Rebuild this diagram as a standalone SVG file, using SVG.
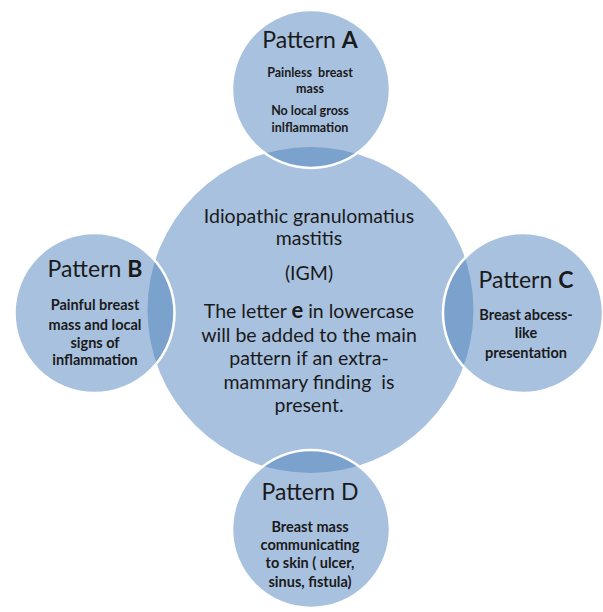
<svg xmlns="http://www.w3.org/2000/svg" width="603" height="612" viewBox="0 0 603 612">
<style>
.fill{fill:#a8c1df}
.dark{fill:#7ba1cd}
.edge{fill:none;stroke:#ffffff;stroke-width:2.5}
text{font-family:Lato,"Open Sans","Liberation Sans",sans-serif;fill:#1a1a1a;text-anchor:middle}
.title{font-size:23px}
.main{font-size:19.5px}
.small{font-size:12.5px;font-weight:bold}
.body{font-size:14.5px;font-weight:bold}
</style>
<defs>
<clipPath id="bigClip"><circle cx="310.5" cy="310" r="163"/></clipPath>
</defs>
<g id="center">
<circle class="fill" cx="310.5" cy="310" r="163"/>
</g>
<g id="circles">
<g id="patternA">
<circle class="fill" cx="311" cy="89" r="79"/>
<circle class="dark" cx="311" cy="89" r="79" clip-path="url(#bigClip)"/>
<circle class="edge" cx="311" cy="89" r="79"/>
</g>
<g id="patternB">
<circle class="fill" cx="94.5" cy="313" r="80"/>
<circle class="dark" cx="94.5" cy="313" r="80" clip-path="url(#bigClip)"/>
<circle class="edge" cx="94.5" cy="313" r="80"/>
</g>
<g id="patternC">
<circle class="fill" cx="523" cy="313" r="80"/>
<circle class="dark" cx="523" cy="313" r="80" clip-path="url(#bigClip)"/>
<circle class="edge" cx="523" cy="313" r="80"/>
</g>
<g id="patternD">
<circle class="fill" cx="311" cy="529" r="79"/>
<circle class="dark" cx="311" cy="529" r="79" clip-path="url(#bigClip)"/>
<circle class="edge" cx="311" cy="529" r="79"/>
</g>
</g>
<g id="labels">
<g id="centerText">
<text class="main" x="309" y="223">Idiopathic granulomatius</text>
<text class="main" x="309" y="245">mastitis</text>
<text class="main" x="309" y="280">(IGM)</text>
<text class="main" x="309" y="318">The letter <tspan font-weight="bold" font-size="22px">e</tspan> in lowercase</text>
<text class="main" x="309" y="342">will be added to the main</text>
<text class="main" x="309" y="365">pattern if an extra-</text>
<text class="main" x="309" y="389" xml:space="preserve">mammary finding  is</text>
<text class="main" x="309" y="412">present.</text>
</g>
<g id="textA">
<text class="title" x="310" y="48">Pattern <tspan font-weight="bold">A</tspan></text>
<text class="small" x="310" y="77" xml:space="preserve">Painless  breast</text>
<text class="small" x="310" y="93">mass</text>
<text class="small" x="310" y="115">No local gross</text>
<text class="small" x="310" y="132">inlflammation</text>
</g>
<g id="textB">
<text class="title" x="95" y="277">Pattern <tspan font-weight="bold">B</tspan></text>
<text class="body" x="95" y="310">Painful breast</text>
<text class="body" x="95" y="330">mass and local</text>
<text class="body" x="95" y="348">signs of</text>
<text class="body" x="95" y="365">inflammation</text>
</g>
<g id="textC">
<text class="title" x="526" y="288">Pattern <tspan font-weight="bold">C</tspan></text>
<text class="body" x="526" y="320">Breast abcess-</text>
<text class="body" x="526" y="338">like</text>
<text class="body" x="526" y="358">presentation</text>
</g>
<g id="textD">
<text class="title" x="310" y="500">Pattern D</text>
<text class="body" x="310" y="532">Breast mass</text>
<text class="body" x="310" y="550">communicating</text>
<text class="body" x="310" y="568">to skin ( ulcer,</text>
<text class="body" x="310" y="587">sinus, fistula)</text>
</g>
</g>
</svg>
